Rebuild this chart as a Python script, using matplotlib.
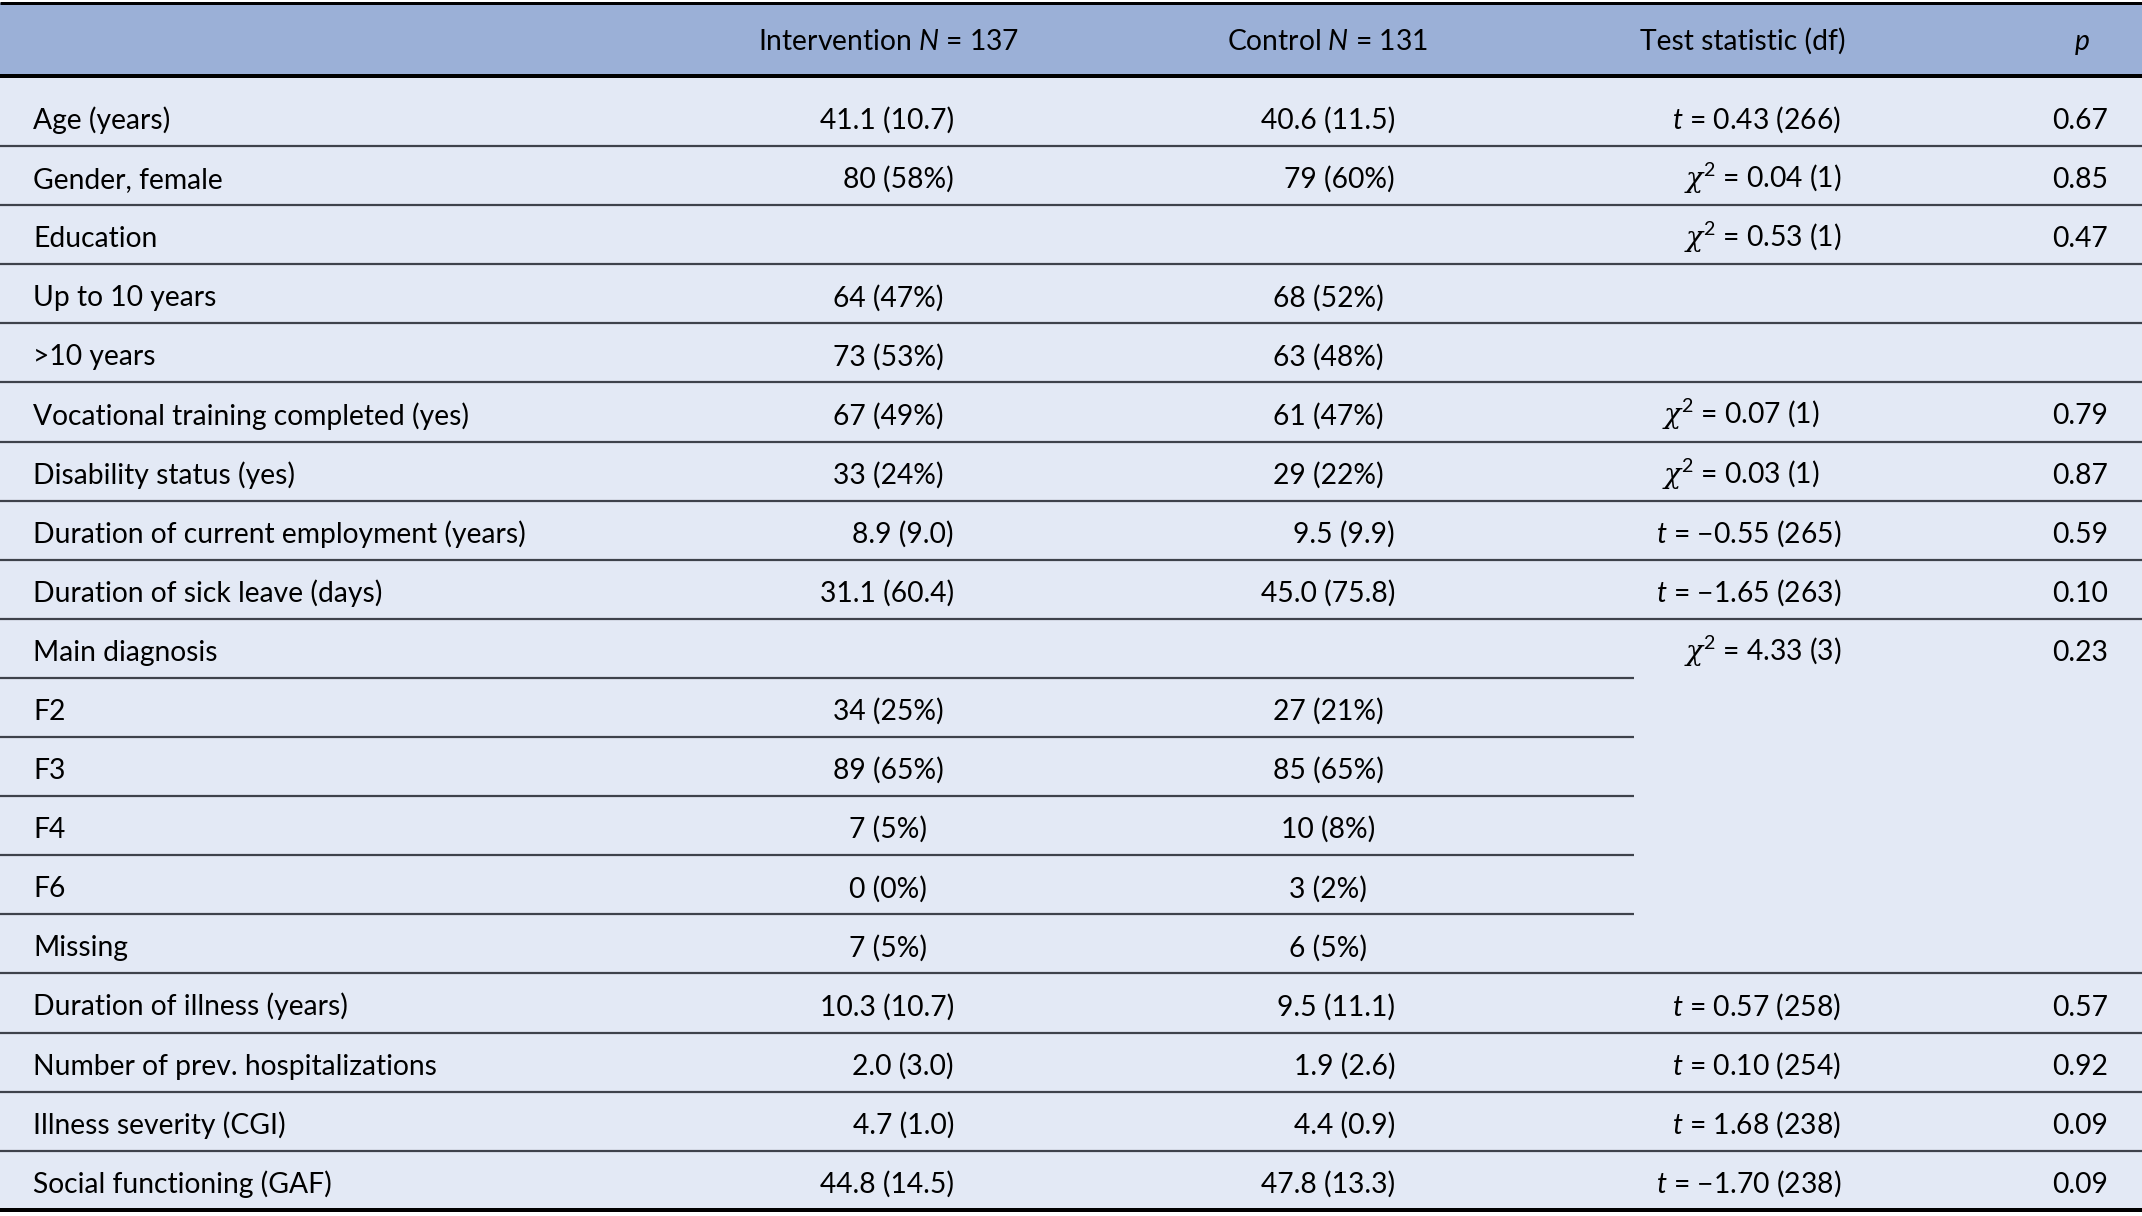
import numpy as np
import matplotlib.pyplot as plt

plt.rcParams['font.family'] = ['Lato', 'DejaVu Sans']
plt.rcParams['mathtext.fontset'] = 'custom'
plt.rcParams['mathtext.rm'] = 'Lato'
plt.rcParams['mathtext.it'] = 'Lato:italic'
plt.rcParams['mathtext.sf'] = 'DejaVu Serif:italic'   # used for the chi only

# table content
headers = ["", "Intervention $N$ = 137", "Control $N$ = 131", "Test statistic (df)", "$p$"]

labels = ["Age (years)", "Gender, female", "Education", "Up to 10 years", ">10 years",
          "Vocational training completed (yes)", "Disability status (yes)",
          "Duration of current employment (years)", "Duration of sick leave (days)",
          "Main diagnosis", "F2", "F3", "F4", "F6", "Missing",
          "Duration of illness (years)", "Number of prev. hospitalizations",
          "Illness severity (CGI)", "Social functioning (GAF)"]

intervention = ["41.1 (10.7)", "80 (58%)", "", "64 (47%)", "73 (53%)", "67 (49%)", "33 (24%)",
                "8.9 (9.0)", "31.1 (60.4)", "", "34 (25%)", "89 (65%)", "7 (5%)", "0 (0%)",
                "7 (5%)", "10.3 (10.7)", "2.0 (3.0)", "4.7 (1.0)", "44.8 (14.5)"]

control = ["40.6 (11.5)", "79 (60%)", "", "68 (52%)", "63 (48%)", "61 (47%)", "29 (22%)",
           "9.5 (9.9)", "45.0 (75.8)", "", "27 (21%)", "85 (65%)", "10 (8%)", "3 (2%)",
           "6 (5%)", "9.5 (11.1)", "1.9 (2.6)", "4.4 (0.9)", "47.8 (13.3)"]

CHI = r"$\mathsf{\chi}^2$"
test_stat = ["$t$ = 0.43 (266)", CHI + " = 0.04 (1)", CHI + " = 0.53 (1)", "", "",
             CHI + " = 0.07 (1)", CHI + " = 0.03 (1)", "$t$ = \u22120.55 (265)",
             "$t$ = \u22121.65 (263)", CHI + " = 4.33 (3)", "", "", "", "", "",
             "$t$ = 0.57 (258)", "$t$ = 0.10 (254)", "$t$ = 1.68 (238)", "$t$ = \u22121.70 (238)"]

p_values = ["0.67", "0.85", "0.47", "", "", "0.79", "0.87", "0.59", "0.10", "0.23",
            "", "", "", "", "", "0.57", "0.92", "0.09", "0.09"]

# layout / style
row_align = ['r', 'r', 'r', 'c', 'c', 'c', 'c', 'r', 'r', 'r',
             'c', 'c', 'c', 'c', 'c', 'r', 'r', 'r', 'r']
partial_lines = [9, 10, 11, 12, 13]

W, H = 2142, 1216
HEAD_BG = '#9bb0d7'
BODY_BG = '#e3e9f5'
LINE_C = '#3e424b'
FS = 20.3

fig = plt.figure(figsize=(W / 100, H / 100), dpi=100)
ax = fig.add_axes([0, 0, 1, 1])
ax.set_xlim(0, W)
ax.set_ylim(H, 0)
ax.axis('off')

head_top, head_bot = 3, 76
seps = 146 + 59.1 * np.arange(len(labels))

ax.axhspan(head_top, head_bot, color=HEAD_BG, lw=0)
ax.axhspan(head_bot, seps[-1], color=BODY_BG, lw=0)

# header
head_x = [33, 889, 1328, 1743, 2082]
for i, (txt, x) in enumerate(zip(headers, head_x)):
    ax.text(x, 50, txt, ha='left' if i == 0 else 'center', va='baseline', fontsize=FS)

# columns: (values, right edge, centre)
cols = [(intervention, 954, 888), (control, 1395, 1328), (test_stat, 1841, 1741)]

for i, lab in enumerate(labels):
    y = seps[i] - 17
    ax.text(33, y, lab, ha='left', va='baseline', fontsize=FS)
    for vals, right, centre in cols:
        if not vals[i]:
            continue
        if row_align[i] == 'r':
            ax.text(right, y, vals[i], ha='right', va='baseline', fontsize=FS)
        else:
            ax.text(centre, y, vals[i], ha='center', va='baseline', fontsize=FS)
    if p_values[i]:
        ax.text(2108, y, p_values[i], ha='right', va='baseline', fontsize=FS)

# rules
for i in range(len(labels) - 1):
    x1 = 1634 if i in partial_lines else W
    ax.hlines(seps[i], 0, x1, color=LINE_C, lw=2.2 * 0.72)
ax.hlines(head_top, 0, W, color='black', lw=3 * 0.72)
ax.hlines(head_bot, 0, W, color='black', lw=4 * 0.72)
ax.hlines(seps[-1], 0, W, color='black', lw=4 * 0.72)

fig.savefig('out.png', dpi=100)
